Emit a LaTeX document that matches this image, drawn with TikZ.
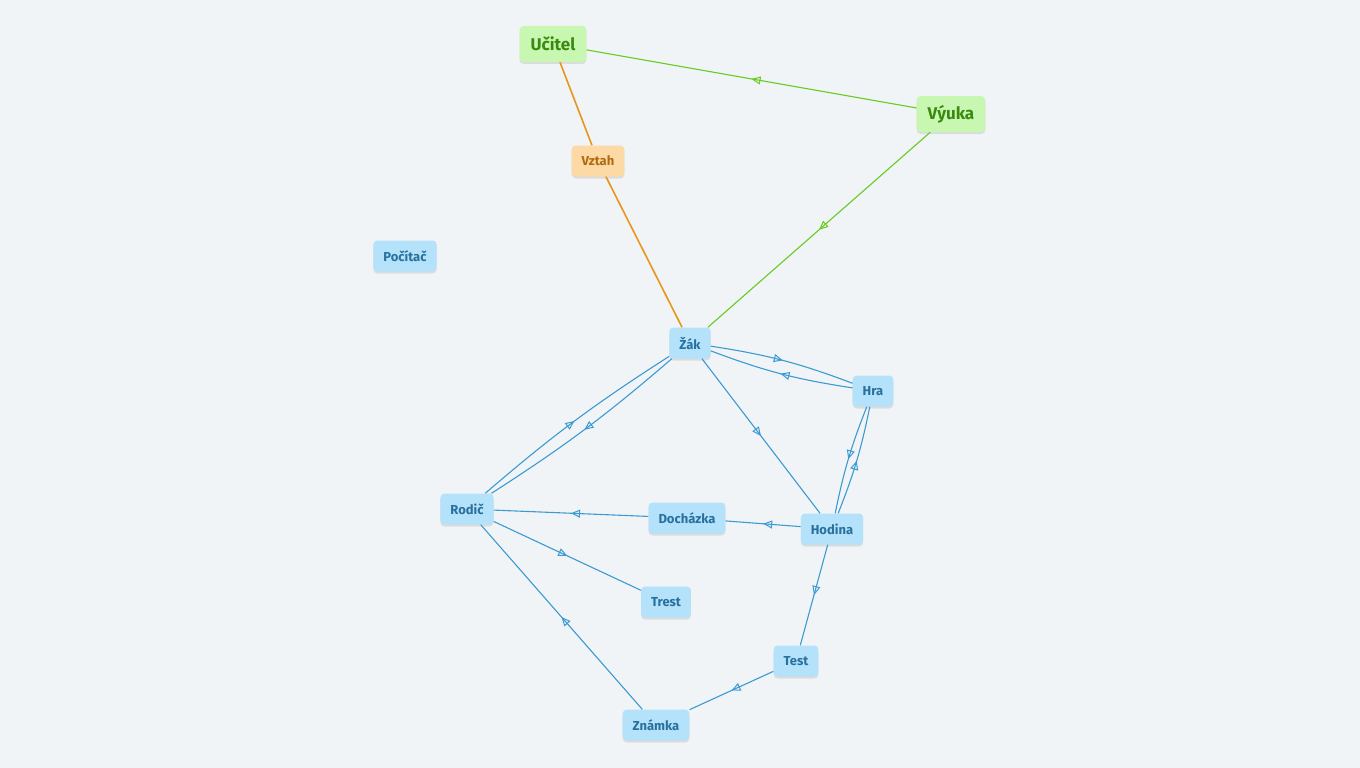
\documentclass[tikz,border=0pt]{standalone}
\usepackage{fontspec}
\setmainfont{Fira Sans}
\usetikzlibrary{arrows.meta,decorations.markings,shadows}
\definecolor{bg}{HTML}{F1F4F6}
\definecolor{bfill}{HTML}{B5E2FB}
\definecolor{btext}{HTML}{28709E}
\definecolor{bline}{HTML}{3C9AD2}
\definecolor{gfill}{HTML}{C8F7B2}
\definecolor{gtext}{HTML}{3A8A10}
\definecolor{gline}{HTML}{66CC22}
\definecolor{ofill}{HTML}{FDD9A6}
\definecolor{otext}{HTML}{B06A10}
\definecolor{oline}{HTML}{E8961A}
\tikzset{
 base/.style={rounded corners=4pt, inner xsep=10pt, minimum height=31pt, font=\bfseries\fontsize{13}{15}\selectfont,
   drop shadow={opacity=0.2, shadow xshift=0pt, shadow yshift=-2pt}},
 blue/.style={base, fill=bfill, text=btext},
 green/.style={base, fill=gfill, text=gtext, minimum height=36pt, inner xsep=11pt, font=\bfseries\fontsize{17}{19}\selectfont},
 orange/.style={base, fill=ofill, text=otext, drop shadow={opacity=0}},
 mid/.style={postaction={decorate}, decoration={markings, mark=at position 0.5 with {\arrow{Triangle[open,length=9pt,width=8pt,line width=1pt]}}}},
 bl/.style={draw=bline, line width=1.1pt, mid},
 gl/.style={draw=gline, line width=1.1pt, mid},
 ol/.style={draw=oline, line width=1.6pt},
}
\begin{document}
\begin{tikzpicture}[x=1pt,y=-1pt]
\fill[bg] (0,0) rectangle (1360,768);
\useasboundingbox (0,0) rectangle (1360,768);
\node[green] (ucitel) at (553,44) {Učitel};
\node[green] (vyuka) at (951,114) {Výuka};
\node[orange] (vztah) at (598,161) {Vztah};
\node[blue] (pocitac) at (405,256) {Počítač};
\node[blue] (zak) at (690,343) {Žák};
\node[blue] (hra) at (873,391) {Hra};
\node[blue] (rodic) at (467,509) {Rodič};
\node[blue] (dochazka) at (687,518) {Docházka};
\node[blue] (hodina) at (832,529) {Hodina};
\node[blue] (trest) at (666,602) {Trest};
\node[blue] (test) at (796,661) {Test};
\node[blue] (znamka) at (656,725) {Známka};
\path[gl] (vyuka) -- (ucitel);
\path[gl] (vyuka) -- (zak);
\path[ol] (ucitel) -- (vztah) -- (zak);
\path[bl] (zak) to[bend left=6] (hra);
\path[bl] (hra) to[bend left=6] (zak);
\path[bl] (zak) -- (hodina);
\path[bl] (hra) to[bend right=5] (hodina);
\path[bl] (hodina) to[bend right=5] (hra);
\path[bl] (rodic) to[bend left=4] (zak);
\path[bl] (zak) to[bend left=4] (rodic);
\path[bl] (dochazka) -- (rodic);
\path[bl] (hodina) -- (dochazka);
\path[bl] (rodic) -- (trest);
\path[bl] (hodina) -- (test);
\path[bl] (test) -- (znamka);
\path[bl] (znamka) -- (rodic);
\end{tikzpicture}
\end{document}
